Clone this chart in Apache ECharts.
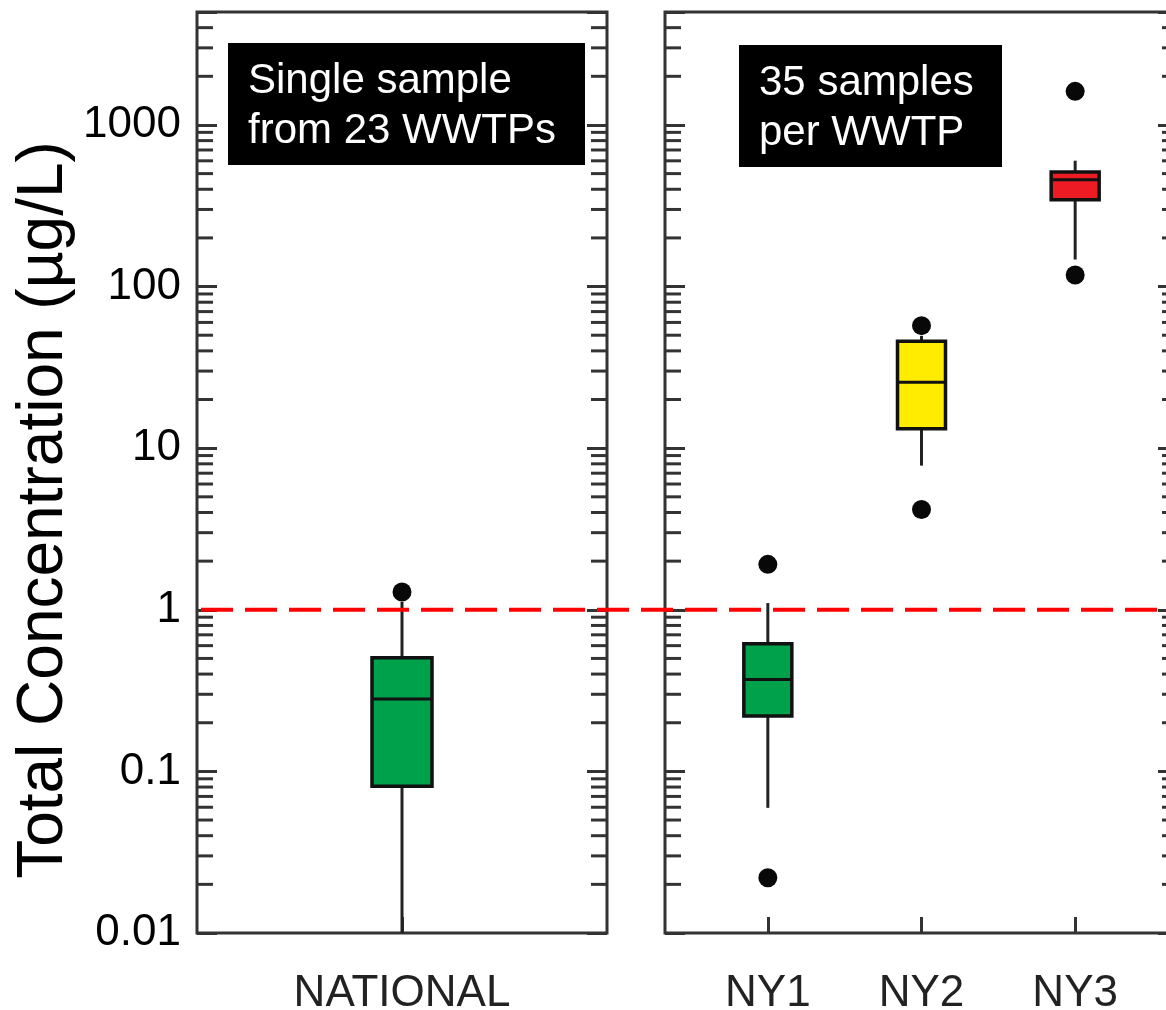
<!DOCTYPE html>
<html>
<head>
<meta charset="utf-8">
<script src="https://cdn.jsdelivr.net/npm/echarts@6/dist/echarts.min.js"></script>
<style>
html,body{margin:0;padding:0;background:#fff;}
#chart{width:1166px;height:1010px;}
</style>
</head>
<body>
<div id="chart"></div>
<script>
// ---- data ----
const nationalCategories = ['NATIONAL'];
const nyCategories = ['NY1', 'NY2', 'NY3'];
// [min, Q1, median, Q3, max]
const nationalBox = [[0.01, 0.081, 0.281, 0.505, 1.12]];
const nyBox = [
  [0.0595, 0.22, 0.37, 0.616, 1.10],
  [7.8, 13.2, 25.6, 45.9, 49.5],
  [147, 345, 458, 511, 601]
];
const nationalOutliers = [[0, 1.29]];
const nyOutliers = [[0, 1.91], [0, 0.022], [1, 57.3], [1, 4.17], [2, 1614], [2, 118]];
const yTickValues = [0.01, 0.1, 1, 10, 100, 1000];
const yTickLabels = ['0.01', '0.1', '1', '10', '100', '1000'];
const minorTickValues = [
  0.02, 0.03, 0.04, 0.05, 0.06, 0.07, 0.08, 0.09,
  0.2, 0.3, 0.4, 0.5, 0.6, 0.7, 0.8, 0.9,
  2, 3, 4, 5, 6, 7, 8, 9,
  20, 30, 40, 50, 60, 70, 80, 90,
  200, 300, 400, 500, 600, 700, 800, 900,
  2000, 3000, 4000
];
const thresholdValue = 1;
const yMin = 0.01, yMax = 5000;
const yTitle = 'Total Concentration (µg/L)';
const noteLeft = ['Single sample', 'from 23 WWTPs'];
const noteRight = ['35 samples', 'per WWTP'];

// ---- styles ----
const FONT = "'Liberation Sans', Arial, Helvetica, sans-serif";
const AXIS_COLOR = '#333';
const nationalColors = ['#00A14B'];
const nyColors = ['#00A14B', '#FFEC00', '#ED1C24'];

const chart = echarts.init(document.getElementById('chart'), null, {renderer: 'canvas'});

function logAxis(gridIndex, position, showLabels) {
  return {
    type: 'log', logBase: 10, gridIndex: gridIndex, position: position,
    min: yMin, max: yMax,
    axisLine: {show: false},
    splitLine: {show: false},
    axisTick: {show: true, inside: true, length: 20, lineStyle: {color: AXIS_COLOR, width: 3}},
    axisLabel: {
      show: showLabels, fontSize: 44, fontFamily: FONT, color: '#000', margin: 16,
      formatter: function (v) {
        for (let i = 0; i < yTickValues.length; i++) {
          if (Math.abs(Math.log10(yTickValues[i]) - Math.log10(v)) < 1e-6) return yTickLabels[i];
        }
        return '';
      }
    }
  };
}

function boxRender(colors, boxW) {
  return function (params, api) {
    const idx = api.value(0);
    const vmin = api.value(1), q1 = api.value(2), med = api.value(3), q3 = api.value(4), vmax = api.value(5);
    const pMin = api.coord([idx, vmin]);
    const pQ1 = api.coord([idx, q1]);
    const pMed = api.coord([idx, med]);
    const pQ3 = api.coord([idx, q3]);
    const pMax = api.coord([idx, vmax]);
    const x = pMed[0];
    const lineStyle = {stroke: '#222', lineWidth: 3};
    return {
      type: 'group',
      children: [
        {type: 'line', shape: {x1: x, y1: pMin[1], x2: x, y2: pQ1[1]}, style: lineStyle},
        {type: 'line', shape: {x1: x, y1: pQ3[1], x2: x, y2: pMax[1]}, style: lineStyle},
        {type: 'rect', shape: {x: x - boxW / 2, y: pQ3[1], width: boxW, height: pQ1[1] - pQ3[1]},
          style: {fill: colors[params.dataIndex], stroke: '#111', lineWidth: 3.5}},
        {type: 'line', shape: {x1: x - boxW / 2, y1: pMed[1], x2: x + boxW / 2, y2: pMed[1]},
          style: {stroke: '#111', lineWidth: 3}}
      ]
    };
  };
}

function minorTickRender(params, api) {
  const v = api.value(1);
  const y = api.coord([0, v])[1];
  const cs = params.coordSys;
  const st = {stroke: AXIS_COLOR, lineWidth: 3};
  return {
    type: 'group',
    children: [
      {type: 'line', shape: {x1: cs.x, y1: y, x2: cs.x + 16, y2: y}, style: st},
      {type: 'line', shape: {x1: cs.x + cs.width - 16, y1: y, x2: cs.x + cs.width, y2: y}, style: st}
    ]
  };
}

const minorData = minorTickValues.map(function (v) { return [0, v]; });

function noteGraphic(x, y, w, h, lines) {
  return {
    type: 'group', left: x, top: y,
    children: [
      {type: 'rect', shape: {x: 0, y: 0, width: w, height: h}, style: {fill: '#000'}},
      {type: 'text', x: 20, y: 38, style: {text: lines[0], fill: '#fff', font: '42px ' + FONT, textVerticalAlign: 'middle'}},
      {type: 'text', x: 20, y: 88, style: {text: lines[1], fill: '#fff', font: '42px ' + FONT, textVerticalAlign: 'middle'}}
    ]
  };
}

const option = {
  animation: false,
  backgroundColor: '#fff',
  grid: [
    {left: 197, top: 12, width: 410, height: 921, show: true, borderColor: AXIS_COLOR, borderWidth: 3, backgroundColor: 'transparent', outerBoundsMode: 'none', containLabel: false},
    {left: 691, top: 12, width: 461, height: 921, show: false, outerBoundsMode: 'none', containLabel: false},
    {left: 665, top: 12, width: 513, height: 921, show: true, borderColor: AXIS_COLOR, borderWidth: 3, backgroundColor: 'transparent', outerBoundsMode: 'none', containLabel: false}
  ],
  xAxis: [
    {type: 'category', gridIndex: 0, data: nationalCategories,
      axisLine: {show: false},
      axisTick: {show: true, inside: true, alignWithLabel: true, length: 16, lineStyle: {color: AXIS_COLOR, width: 3}},
      axisLabel: {fontSize: 44, fontFamily: FONT, color: '#222', margin: 39}},
    {type: 'category', gridIndex: 1, data: nyCategories,
      axisLine: {show: false},
      axisTick: {show: true, inside: true, alignWithLabel: true, length: 16, lineStyle: {color: AXIS_COLOR, width: 3}},
      axisLabel: {fontSize: 44, fontFamily: FONT, color: '#222', margin: 39}},
    {type: 'value', gridIndex: 2, min: 0, max: 1, show: false}
  ],
  yAxis: [
    logAxis(0, 'left', true),
    logAxis(0, 'right', false),
    Object.assign(logAxis(1, 'left', false), {show: false}),
    logAxis(2, 'left', false),
    logAxis(2, 'right', false)
  ],
  series: [
    {type: 'custom', xAxisIndex: 0, yAxisIndex: 0, data: minorData, renderItem: minorTickRender, silent: true, z: 3},
    {type: 'custom', xAxisIndex: 2, yAxisIndex: 3, data: minorData, renderItem: minorTickRender, silent: true, z: 3},
    {type: 'custom', xAxisIndex: 0, yAxisIndex: 0,
      data: nationalBox.map(function (b, i) { return [i].concat(b); }),
      renderItem: boxRender(nationalColors, 60), z: 4},
    {type: 'custom', xAxisIndex: 1, yAxisIndex: 2,
      data: nyBox.map(function (b, i) { return [i].concat(b); }),
      renderItem: boxRender(nyColors, 48), z: 4},
    {type: 'scatter', xAxisIndex: 0, yAxisIndex: 0, data: nationalOutliers, symbolSize: 19,
      itemStyle: {color: '#080808', opacity: 1}, z: 5},
    {type: 'scatter', xAxisIndex: 1, yAxisIndex: 2, data: nyOutliers, symbolSize: 19,
      itemStyle: {color: '#080808', opacity: 1}, z: 5},
    {type: 'custom', xAxisIndex: 0, yAxisIndex: 0, data: [[0, thresholdValue]], z: 6, silent: true,
      renderItem: function (params, api) {
        const y = api.coord([0, api.value(1)])[1];
        const cs = params.coordSys;
        return {type: 'line', shape: {x1: cs.x, y1: y, x2: api.getWidth(), y2: y},
          style: {stroke: '#FF0000', lineWidth: 4, lineDash: [32, 12], lineDashOffset: 40}};
      }}
  ],
  graphic: [
    {type: 'text', x: 44, y: 510, rotation: Math.PI / 2,
      style: {text: yTitle, font: '64px ' + FONT, fill: '#000', textAlign: 'center', textVerticalAlign: 'middle'}},
    noteGraphic(228, 43, 357, 122, noteLeft),
    noteGraphic(739, 45, 263, 122, noteRight)
  ]
};
chart.setOption(option);
</script>
</body>
</html>
